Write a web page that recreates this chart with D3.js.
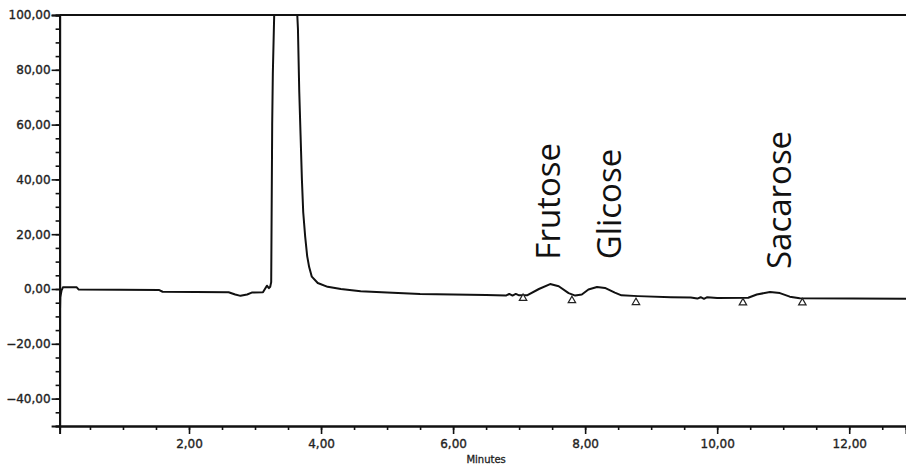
<!DOCTYPE html>
<html>
<head>
<meta charset="utf-8">
<script src="https://cdn.jsdelivr.net/npm/d3@7"></script>
<style>
  body { margin: 0; background: #fff; }
  svg { display: block; }
</style>
</head>
<body>
<div id="wrapper"></div>
<script>
// chromatogram trace (minutes, signal)
const times = [
    0.04, 0.05, 0.07, 0.09, 0.30, 0.33, 1.55, 1.60, 2.60, 2.70, 2.78, 2.88, 2.95,
    3.12, 3.15, 3.18, 3.21, 3.23, 3.245, 3.26, 3.27, 3.30, 3.45, 3.62, 3.65, 3.67,
    3.69, 3.71, 3.73, 3.76, 3.79, 3.82, 3.86, 3.95, 4.10, 4.30, 4.60, 5.00, 5.50,
    6.00, 6.50, 6.80, 6.85, 6.90, 6.95, 7.00, 7.12, 7.30, 7.47, 7.60, 7.75, 7.85,
    7.95, 8.05, 8.18, 8.30, 8.45, 8.55, 8.80, 9.30, 9.60, 9.70, 9.75, 9.80, 9.85,
    10.00, 10.47, 10.60, 10.80, 10.95, 11.10, 11.25, 12.86
]
const signal = [
    -15, -3, -0.5, 0.6, 0.6, -0.2, -0.4, -1.0, -1.2, -2.0, -2.5, -2.0, -1.3,
    -1.2, 0.0, 1.2, 0.3, 0.8, 2.5, 60, 79, 110, 300, 110, 95, 72,
    56, 40, 28, 19, 12, 8, 4.5, 2.2, 0.8, 0.0, -0.8, -1.3, -1.8,
    -2.0, -2.2, -2.4, -1.8, -2.4, -1.8, -2.3, -2.3, 0.0, 1.8, 1.0, -1.5, -2.4,
    -2.0, -0.2, 0.7, 0.4, -1.3, -2.3, -2.6, -3.0, -3.1, -3.5, -3.0, -3.6, -3.0,
    -3.3, -3.2, -2.0, -1.1, -1.5, -2.8, -3.4, -3.6
]

// peak start / end markers
const markerTimes = [7.06, 7.80, 8.77, 10.39, 11.29]
const markerValues = [-3.4, -4.2, -4.9, -5.0, -5.0]

// peak names
const peakNames = ["Frutose", "Glicose", "Sacarose"]
const peakLabelTimes = [7.62, 8.54, 11.12]
const peakLabelValues = [32, 31, 32.5]

const yTicks = [-40, -20, 0, 20, 40, 60, 80, 100]
const xTicks = [2, 4, 6, 8, 10, 12]

const dataset = times.map((t, i) => ({ t: t, v: signal[i] }))
const xAccessor = d => d.t
const yAccessor = d => d.v

const dimensions = {
    width: 906,
    height: 464,
    left: 59.6,
    right: 906,
    top: 15,
    bottom: 426,
}

const wrapper = d3.select("#wrapper")
    .append("svg")
    .attr("width", dimensions.width)
    .attr("height", dimensions.height)

const xScale = d3.scaleLinear()
    .domain([0.04, 12.86])
    .range([dimensions.left, dimensions.right])
const yScale = d3.scaleLinear()
    .domain([-50, 100])
    .range([dimensions.bottom, dimensions.top])

const fmt = d => d3.format(".2f")(d).replace(".", ",")

wrapper.append("defs").append("clipPath")
    .attr("id", "plot-clip")
    .append("rect")
    .attr("x", dimensions.left)
    .attr("y", dimensions.top)
    .attr("width", dimensions.right - dimensions.left)
    .attr("height", dimensions.bottom - dimensions.top)

// minor ticks first, then major ticks with labels
const yMinor = d3.axisLeft(yScale)
    .tickValues(d3.range(-50, 101, 5))
    .tickSize(4)
    .tickFormat("")
const yMajor = d3.axisLeft(yScale)
    .tickValues(yTicks)
    .tickSize(8)
    .tickPadding(1)
    .tickFormat(fmt)
const xMinor = d3.axisBottom(xScale)
    .tickValues(d3.range(0.5, 12.9, 0.5))
    .tickSize(4)
    .tickFormat("")
const xMajor = d3.axisBottom(xScale)
    .tickValues(xTicks)
    .tickSize(8)
    .tickPadding(5)
    .tickFormat(fmt)

function styleAxis(g) {
    g.select(".domain").attr("stroke", "#111").attr("stroke-width", 2)
    g.selectAll(".tick line").attr("stroke", "#111").attr("stroke-width", 1.6)
    g.selectAll(".tick text")
        .attr("fill", "#222")
        .attr("stroke", "#222")
        .attr("stroke-width", 0.35)
        .style("font-family", "DejaVu Sans, sans-serif")
        .style("font-size", "12px")
}

wrapper.append("g")
    .attr("transform", `translate(${dimensions.left},0)`)
    .call(yMinor).call(styleAxis)
wrapper.append("g")
    .attr("transform", `translate(${dimensions.left},0)`)
    .call(yMajor).call(styleAxis)
wrapper.append("g")
    .attr("transform", `translate(0,${dimensions.bottom})`)
    .call(xMinor).call(styleAxis)
wrapper.append("g")
    .attr("transform", `translate(0,${dimensions.bottom})`)
    .call(xMajor).call(styleAxis)

// top border
wrapper.append("line")
    .attr("x1", dimensions.left)
    .attr("x2", dimensions.right)
    .attr("y1", dimensions.top)
    .attr("y2", dimensions.top)
    .attr("stroke", "#111")
    .attr("stroke-width", 2)

wrapper.append("text")
    .attr("x", xScale(6.5))
    .attr("y", 463)
    .attr("text-anchor", "middle")
    .attr("fill", "#222")
    .attr("stroke", "#222")
    .attr("stroke-width", 0.3)
    .style("font-family", "DejaVu Sans, sans-serif")
    .style("font-size", "10px")
    .text("Minutes")

// trace
const lineGenerator = d3.line()
    .x(d => xScale(xAccessor(d)))
    .y(d => yScale(yAccessor(d)))

wrapper.append("path")
    .datum(dataset)
    .attr("clip-path", "url(#plot-clip)")
    .attr("d", lineGenerator)
    .attr("fill", "none")
    .attr("stroke", "#111")
    .attr("stroke-width", 2)
    .attr("stroke-linejoin", "round")

// peak markers
wrapper.selectAll(".marker")
    .data(markerTimes)
    .join("path")
    .attr("class", "marker")
    .attr("transform", (d, i) => `translate(${xScale(d)},${yScale(markerValues[i])})`)
    .attr("d", d3.symbol(d3.symbolTriangle, 24))
    .attr("fill", "#fff")
    .attr("stroke", "#222")
    .attr("stroke-width", 1.2)

// peak labels
wrapper.selectAll(".peak-label")
    .data(peakNames)
    .join("text")
    .attr("class", "peak-label")
    .attr("transform", (d, i) => `translate(${xScale(peakLabelTimes[i])},${yScale(peakLabelValues[i])}) rotate(-90)`)
    .attr("text-anchor", "middle")
    .attr("fill", "#111")
    .style("font-family", "Open Sans, sans-serif")
    .style("font-size", "33px")
    .text(d => d)
</script>
</body>
</html>
